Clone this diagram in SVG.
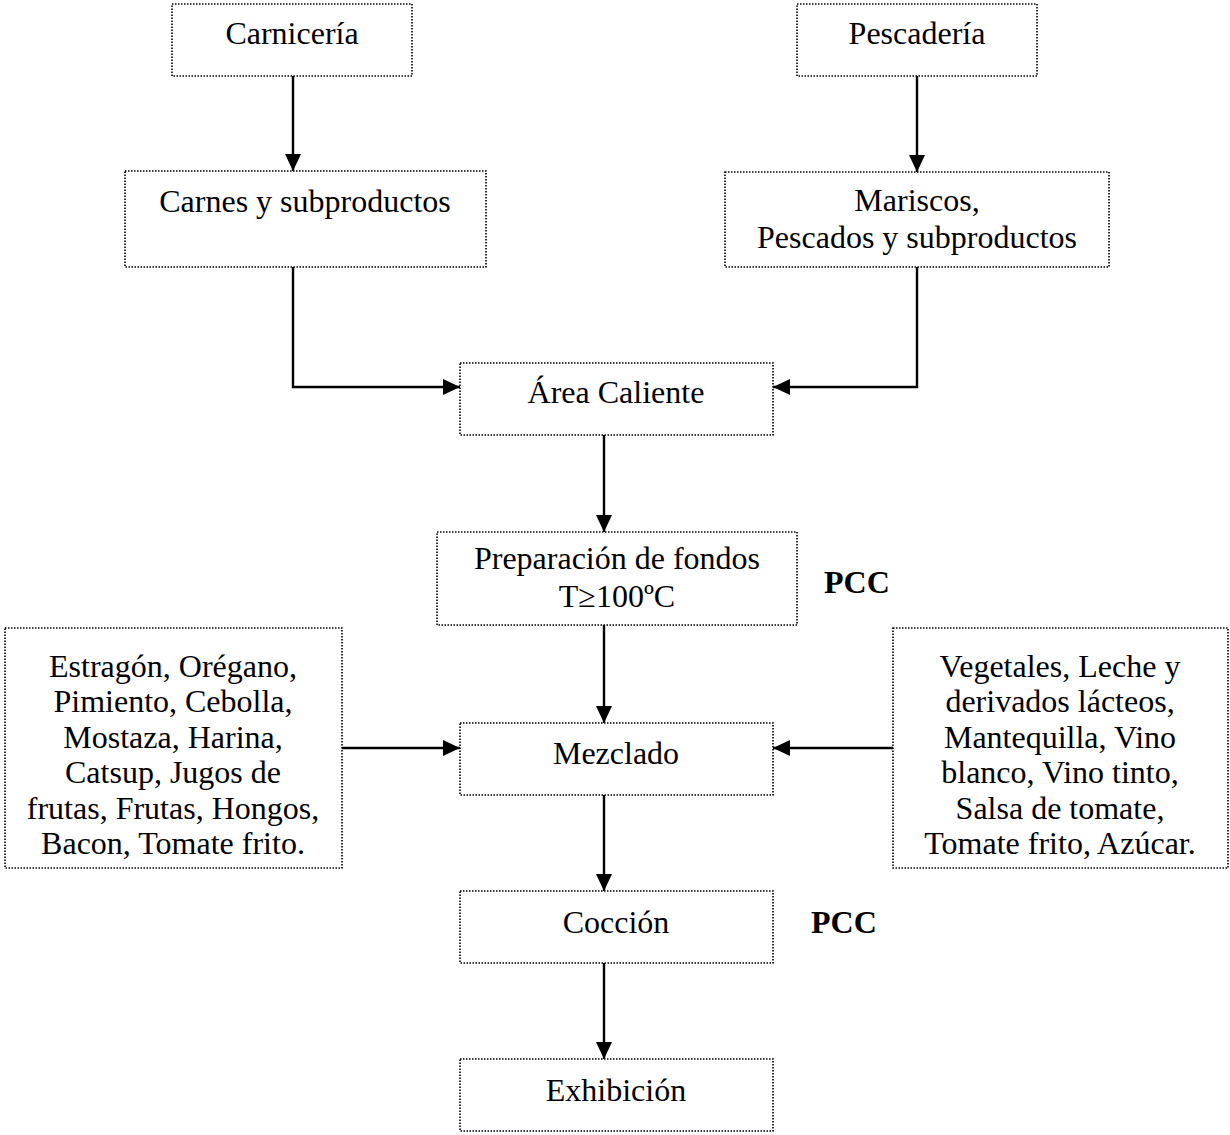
<svg xmlns="http://www.w3.org/2000/svg" width="1230" height="1135" viewBox="0 0 1230 1135">
<style>
.box{fill:#fff;stroke:#000;stroke-width:1.6;stroke-dasharray:1.5 1.5}
text{font-family:"Liberation Serif","Times New Roman",serif;font-size:32px;fill:#000;text-anchor:middle}
.b{font-weight:bold;text-anchor:start}
.c{fill:none;stroke:#000;stroke-width:2.4}
</style>
<defs>
<marker id="ah" markerWidth="17" markerHeight="16" refX="17" refY="8" orient="auto" markerUnits="userSpaceOnUse">
<path d="M0,0 L17,8 L0,16 Z" fill="#000"/>
</marker>
</defs>
<g id="connectors">
<path class="c" d="M293,76 V171" marker-end="url(#ah)"/>
<path class="c" d="M917,76 V172" marker-end="url(#ah)"/>
<path class="c" d="M293,267 V387 H460" marker-end="url(#ah)"/>
<path class="c" d="M917,267 V387 H773" marker-end="url(#ah)"/>
<path class="c" d="M604,435 V532" marker-end="url(#ah)"/>
<path class="c" d="M604,625 V723" marker-end="url(#ah)"/>
<path class="c" d="M342,748 H460" marker-end="url(#ah)"/>
<path class="c" d="M893,748 H773" marker-end="url(#ah)"/>
<path class="c" d="M604,795 V891" marker-end="url(#ah)"/>
<path class="c" d="M604,963 V1059" marker-end="url(#ah)"/>
</g>
<g id="carniceria"><rect class="box" x="172" y="4" width="240" height="72"/><text x="292" y="44">Carnicería</text></g>
<g id="pescaderia"><rect class="box" x="797" y="4" width="240" height="72"/><text x="917" y="44">Pescadería</text></g>
<g id="carnes"><rect class="box" x="125" y="171" width="361" height="96"/><text x="305" y="212">Carnes y subproductos</text></g>
<g id="mariscos"><rect class="box" x="725" y="172" width="384" height="95"/><text x="917" y="211">Mariscos,</text><text x="917" y="248">Pescados y subproductos</text></g>
<g id="area-caliente"><rect class="box" x="460" y="363" width="313" height="72"/><text x="616" y="403">Área Caliente</text></g>
<g id="preparacion"><rect class="box" x="437" y="532" width="360" height="93"/><text x="617" y="569">Preparación de fondos</text><text x="617" y="607">T≥100ºC</text></g>
<g id="pcc1"><text class="b" x="824" y="593">PCC</text></g>
<g id="izquierda"><rect class="box" x="5" y="628" width="337" height="240"/>
<text x="173" y="677">Estragón, Orégano,</text>
<text x="173" y="712">Pimiento, Cebolla,</text>
<text x="173" y="748">Mostaza, Harina,</text>
<text x="173" y="783">Catsup, Jugos de</text>
<text x="173" y="819">frutas, Frutas, Hongos,</text>
<text x="173" y="854">Bacon, Tomate frito.</text></g>
<g id="mezclado"><rect class="box" x="460" y="723" width="313" height="72"/><text x="616" y="764">Mezclado</text></g>
<g id="derecha"><rect class="box" x="893" y="628" width="335" height="240"/>
<text x="1060" y="677">Vegetales, Leche y</text>
<text x="1060" y="712">derivados lácteos,</text>
<text x="1060" y="748">Mantequilla, Vino</text>
<text x="1060" y="783">blanco, Vino tinto,</text>
<text x="1060" y="819">Salsa de tomate,</text>
<text x="1060" y="854">Tomate frito, Azúcar.</text></g>
<g id="coccion"><rect class="box" x="460" y="891" width="313" height="72"/><text x="616" y="933">Cocción</text></g>
<g id="pcc2"><text class="b" x="811" y="933">PCC</text></g>
<g id="exhibicion"><rect class="box" x="460" y="1059" width="313" height="72"/><text x="616" y="1101">Exhibición</text></g>
</svg>
